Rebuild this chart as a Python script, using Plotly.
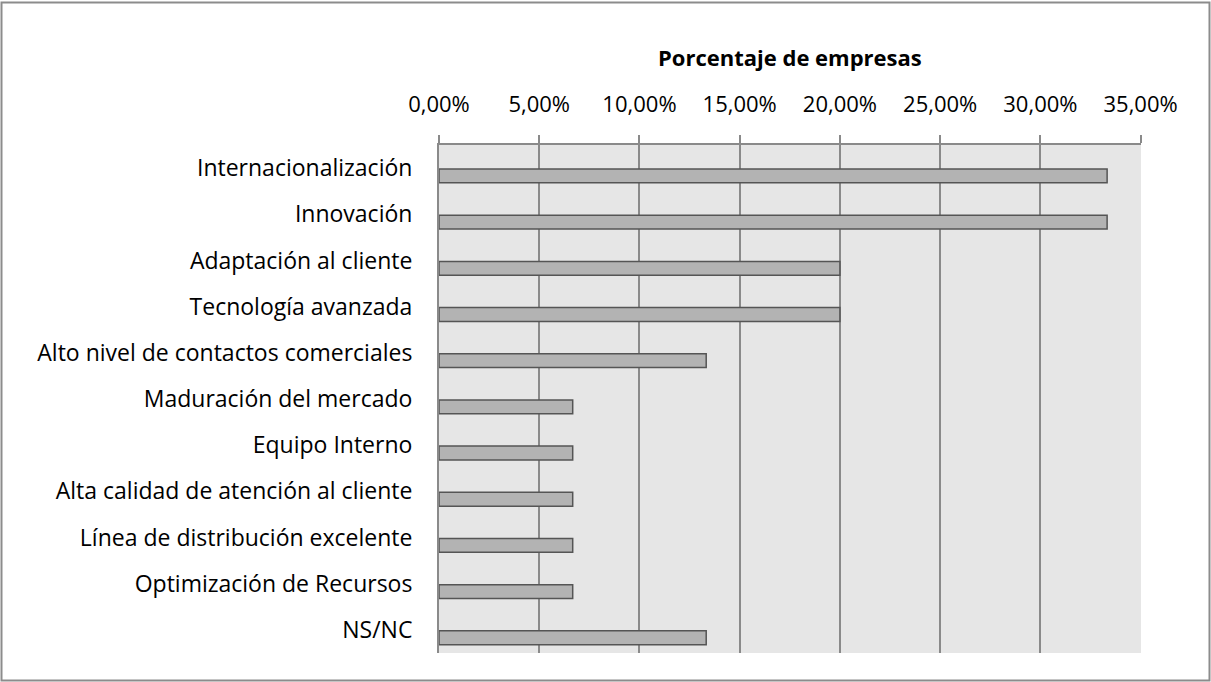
import plotly.graph_objects as go

# -----------------------------------------------------------------------------
# Data
# -----------------------------------------------------------------------------
categorias = [
    "Internacionalización",
    "Innovación",
    "Adaptación al cliente",
    "Tecnología avanzada",
    "Alto nivel de contactos comerciales",
    "Maduración del mercado",
    "Equipo Interno",
    "Alta calidad de atención al cliente",
    "Línea de distribución excelente",
    "Optimización de Recursos",
    "NS/NC",
]
porcentajes = [33.33, 33.33, 20.0, 20.0, 13.33, 6.67, 6.67, 6.67, 6.67, 6.67, 13.33]
tick_vals = [0, 5, 10, 15, 20, 25, 30, 35]
tick_text = [f"{v:.2f}".replace(".", ",") + "%" for v in tick_vals]

# -----------------------------------------------------------------------------
# Style
# -----------------------------------------------------------------------------
FONT = "Open Sans"
GRID = "#8a8a8a"
W, H = 1211, 682
L, R, T, B = 439, 70, 145, 29
pw, ph = W - L - R, H - T - B
n = len(categorias)

fig = go.Figure()

# barras algo desplazadas hacia abajo respecto a la etiqueta (como en Excel)
fig.add_trace(go.Bar(
    x=porcentajes,
    y=categorias,
    orientation="h",
    width=0.3,
    offset=0.02,
    marker=dict(color="#b3b3b3", line=dict(color="#555555", width=1.5)),
    hoverinfo="x+y",
))

# titulo del eje
fig.add_annotation(
    text="<b>Porcentaje de empresas</b>",
    x=0.5, y=(H - B - 57) / ph,
    xref="paper", yref="paper",
    xanchor="center", yanchor="middle",
    showarrow=False,
    font=dict(family=FONT, size=22, color="#000"),
)

# marco exterior
fig.add_shape(
    type="rect", xref="paper", yref="paper",
    x0=(1.5 - L) / pw, x1=(W - 1.5 - L) / pw,
    y0=-(B - 1.5) / ph, y1=1 + (T - 2.5) / ph,
    line=dict(color="#8c8c8c", width=2),
    layer="below",
)

fig.update_layout(
    width=W,
    height=H,
    margin=dict(l=L, r=R, t=T, b=B),
    paper_bgcolor="white",
    plot_bgcolor="#e6e6e6",
    showlegend=False,
    font=dict(family=FONT, size=23, color="#000"),
)

fig.update_xaxes(
    side="top",
    range=[0, 35.02],
    tickvals=tick_vals,
    ticktext=tick_text,
    showgrid=True,
    gridcolor=GRID,
    gridwidth=1.5,
    showline=True,
    linecolor=GRID,
    linewidth=1.5,
    ticks="outside",
    ticklen=8,
    tickwidth=1.5,
    tickcolor=GRID,
    ticklabelstandoff=14,
    zeroline=False,
    tickfont=dict(family=FONT, size=22, color="#000"),
)

fig.update_yaxes(
    range=[n - 0.5, -0.5],
    showgrid=False,
    showline=True,
    linecolor=GRID,
    linewidth=2,
    ticks="",
    ticklabelstandoff=20,
    tickfont=dict(family=FONT, size=23, color="#000"),
)

fig.write_html(
    "out.html",
    config={"displayModeBar": False},
    post_script="document.body.style.margin='0';document.body.style.overflow='hidden';",
)
